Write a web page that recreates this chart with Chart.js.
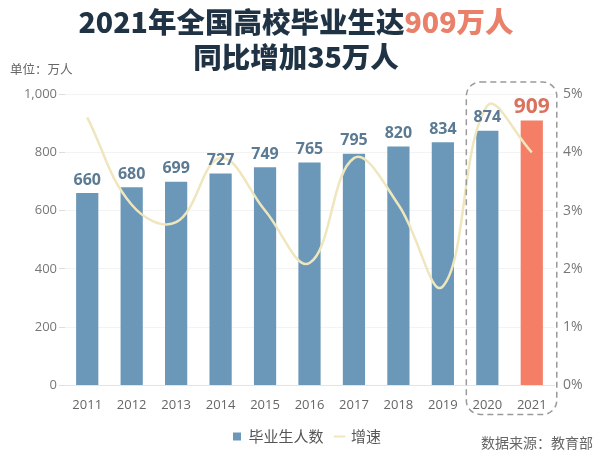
<!DOCTYPE html>
<html>
<head>
<meta charset="utf-8">
<script src="https://cdn.jsdelivr.net/npm/chart.js@4"></script>
<style>
  html,body{margin:0;padding:0;background:#fff;}
  #wrap{position:relative;width:614px;height:462px;overflow:hidden;font-family:"Noto Sans CJK SC","Noto Sans",sans-serif;}
  #chart{position:absolute;left:0;top:0;}
  .title{position:absolute;left:-11px;width:614px;text-align:center;font-weight:800;font-size:28.5px;color:#1f3344;line-height:1;}
  .title .hl{color:#e9806a;}
  #unit{position:absolute;left:10px;top:59px;font-size:12.5px;color:#666;}
  #source{position:absolute;left:481px;top:432px;font-size:14px;color:#666;}
</style>
</head>
<body>
<div id="wrap">
  <canvas id="chart" width="614" height="462"></canvas>
  <div class="title" style="top:7px;">2021年全国高校毕业生达<span class="hl">909万人</span></div>
  <div class="title" style="top:42px;">同比增加35万人</div>
  <div id="unit">单位：万人</div>
  <div id="source">数据来源：教育部</div>
</div>
<script>
const years=['2011','2012','2013','2014','2015','2016','2017','2018','2019','2020','2021'];
const graduates=[660,680,699,727,749,765,795,820,834,874,909];
const growth=[4.6,3.1,2.8,3.9,3.0,2.1,3.9,3.1,1.7,4.8,4.0];
const leftTicks=[0,200,400,600,800,1000];
const rightTicks=[0,1,2,3,4,5];

const blue='#6b98b8';
const salmon='#f47f66';
const lineColor='#efe6bd';
const barColors=graduates.map((v,i)=>i===graduates.length-1?salmon:blue);

// numbers above the bars
const barLabels={
  id:'barLabels',
  afterDatasetsDraw(chart){
    const ctx=chart.ctx;
    const meta=chart.getDatasetMeta(0);
    ctx.save();
    ctx.textAlign='center';
    ctx.textBaseline='bottom';
    meta.data.forEach((bar,i)=>{
      const last=i===graduates.length-1;
      ctx.font=(last?'bold 21px':'bold 16px')+' "Open Sans","Noto Sans",sans-serif';
      ctx.fillStyle=last?'#d9735f':'#5b7a93';
      ctx.fillText(graduates[i],bar.x,bar.y-(last?3:5));
    });
    ctx.restore();
  }
};

// dashed highlight round 2020-2021
const highlight={
  id:'highlight',
  afterDraw(chart){
    const x=chart.scales.x;
    const left=x.getPixelForValue(9)-21;
    const right=x.getPixelForValue(10)+25;
    const top=chart.chartArea.top-12;
    const bottom=chart.chartArea.bottom+29;
    const ctx=chart.ctx;
    ctx.save();
    ctx.strokeStyle='#9a9a9a';
    ctx.lineWidth=1.5;
    ctx.setLineDash([6,4]);
    ctx.beginPath();
    ctx.roundRect(left,top,right-left,bottom-top,14);
    ctx.stroke();
    ctx.restore();
  }
};

new Chart(document.getElementById('chart'),{
  type:'bar',
  data:{
    labels:years,
    datasets:[
      {label:'毕业生人数',data:graduates,backgroundColor:barColors,yAxisID:'y',order:1,
       categoryPercentage:1,barPercentage:0.5},
      {type:'line',label:'增速',data:growth,yAxisID:'y1',order:0,borderColor:lineColor,
       backgroundColor:lineColor,borderWidth:2.5,tension:0.4,pointRadius:0,fill:false}
    ]
  },
  options:{
    responsive:false,
    animation:false,
    layout:{padding:{top:94,left:0,right:0,bottom:8}},
    plugins:{
      title:{display:false},
      tooltip:{enabled:false},
      legend:{
        position:'bottom',
        labels:{
          color:'#555',
          font:{size:15,family:'"Noto Sans CJK SC",sans-serif'},
          boxWidth:8,boxHeight:8,padding:12,
          generateLabels(chart){
            return [
              {text:'毕业生人数',fillStyle:blue,strokeStyle:blue,lineWidth:0,pointStyle:'rect',datasetIndex:0,fontColor:'#555'},
              {text:'增速',fillStyle:lineColor,strokeStyle:lineColor,lineWidth:2,pointStyle:'line',datasetIndex:1,fontColor:'#555'}
            ];
          },
          usePointStyle:true
        }
      }
    },
    scales:{
      x:{
        grid:{display:false},
        border:{color:'#e4e4e4'},
        ticks:{color:'#666',font:{size:13,family:'"Open Sans",sans-serif'},padding:4}
      },
      y:{
        position:'left',min:0,max:1000,
        afterFit(s){s.width=65;},
        afterBuildTicks(s){s.ticks=leftTicks.map(v=>({value:v}));},
        grid:{color:'#f3f3f3',tickLength:6,tickColor:'#ddd'},
        border:{display:false},
        ticks:{color:'#777',font:{size:13,family:'"Open Sans",sans-serif'},padding:2}
      },
      y1:{
        position:'right',min:0,max:5,
        afterFit(s){s.width=60;},
        afterBuildTicks(s){s.ticks=rightTicks.map(v=>({value:v}));},
        grid:{display:false,drawTicks:false},
        border:{display:false},
        ticks:{color:'#777',font:{size:14,family:'"Open Sans",sans-serif'},padding:9,callback:v=>v+'%'}
      }
    }
  },
  plugins:[barLabels,highlight]
});
</script>
</body>
</html>
